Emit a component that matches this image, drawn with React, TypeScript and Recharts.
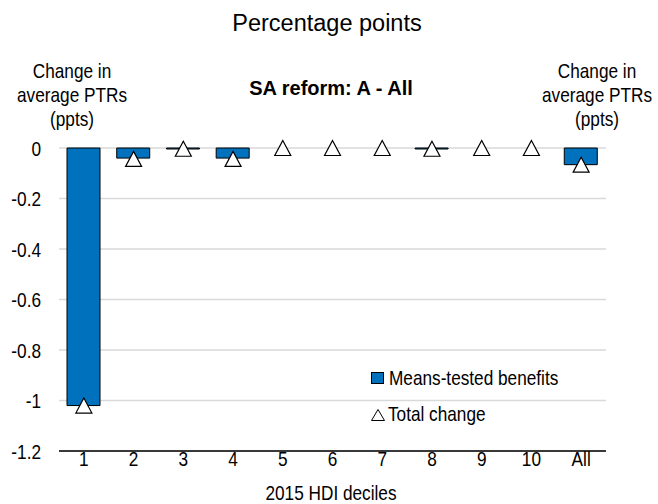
import React from "react"
import {
  ComposedChart,
  Bar,
  Line,
  XAxis,
  YAxis,
  CartesianGrid
} from "recharts"

const deciles = ["1", "2", "3", "4", "5", "6", "7", "8", "9", "10", "All"]
const meansTested = [-1.02, -0.04, -0.004, -0.04, 0, 0, 0, -0.004, 0, 0, -0.066]
const totalChange = [-1.02, -0.043, -0.003, -0.043, 0, 0, 0, -0.003, 0, 0, -0.066]
const yTicks = [0, -0.2, -0.4, -0.6, -0.8, -1, -1.2]

const data = deciles.map((cat, i) => ({
  cat,
  benefits: meansTested[i],
  total: totalChange[i]
}))

const barColor = "#0071bc"
const font = "'Liberation Sans', Arial, sans-serif"
const squeeze = 0.82 // no Arial Narrow installed, so squash Liberation Sans

// text squashed horizontally around its anchor point
const Narrow = ({ x, y, anchor = "start", size = 21, children }: any) => (
  <text
    transform={`translate(${x},${y}) scale(${squeeze},1)`}
    textAnchor={anchor}
    fontFamily={font}
    fontSize={size}
    fill="#000"
  >
    {children}
  </text>
)

const XTick = (props: any) => (
  <Narrow x={props.x} y={props.y + 15} anchor="middle">
    {props.payload.value}
  </Narrow>
)

const LeftTick = (props: any) => (
  <Narrow x={props.x} y={props.y + 7.5} anchor="end">
    {String(props.payload.value)}
  </Narrow>
)

const RightTick = (props: any) => (
  <Narrow x={props.x} y={props.y + 7.5} anchor="start">
    {String(props.payload.value)}
  </Narrow>
)

const triPath = (cx: number, cy: number, w = 16, h = 15) =>
  `M${cx},${cy - h / 2} L${cx + w / 2},${cy + h / 2} L${cx - w / 2},${cy + h / 2} Z`

const Triangle = (props: any) => {
  const { cx, cy, index } = props
  if (cx == null || cy == null) return <g key={`t-${index}`} />
  return (
    <path
      key={`t-${index}`}
      d={triPath(cx, cy)}
      fill="#ffffff"
      stroke="#000000"
      strokeWidth={1.2}
    />
  )
}

export default function App() {
  return (
    <div style={{ position: "absolute", left: 0, top: 0, width: 658, height: 504, background: "#fff" }}>
      <ComposedChart
        width={658}
        height={504}
        data={data}
        margin={{ top: 148, right: 0, left: 0, bottom: 0 }}
      >
        <CartesianGrid vertical={false} stroke="#d9d9d9" strokeWidth={1.5} yAxisId="left" />
        <XAxis
          dataKey="cat"
          height={53}
          interval={0}
          tickSize={0}
          tickMargin={0}
          tickLine={false}
          axisLine={{ stroke: "#000", strokeWidth: 1.5 }}
          tick={<XTick />}
        />
        <YAxis
          yAxisId="left"
          orientation="left"
          width={59}
          domain={[-1.2, 0]}
          ticks={yTicks}
          tickSize={0}
          tickMargin={18}
          tickLine={false}
          axisLine={false}
          tick={<LeftTick />}
        />
        <YAxis
          yAxisId="right"
          orientation="right"
          width={52}
          domain={[-1.2, 0]}
          ticks={yTicks}
          tickSize={0}
          tickMargin={16}
          tickLine={false}
          axisLine={false}
          tick={<RightTick />}
        />
        <Bar
          yAxisId="left"
          dataKey="benefits"
          barSize={33}
          fill={barColor}
          stroke="#000"
          strokeWidth={1}
          isAnimationActive={false}
        />
        <Line
          yAxisId="left"
          dataKey="total"
          stroke="none"
          dot={Triangle}
          activeDot={false}
          isAnimationActive={false}
        />
      </ComposedChart>

      {/* titles, side labels and legend */}
      <svg
        width={658}
        height={504}
        style={{ position: "absolute", left: 0, top: 0, pointerEvents: "none" }}
      >
        <text x={327} y={31} textAnchor="middle" fontFamily={font} fontSize={23.5} fill="#000">
          Percentage points
        </text>
        <text x={331} y={95} textAnchor="middle" fontFamily={font} fontWeight="bold" fontSize={20} fill="#000">
          SA reform: A - All
        </text>
        <Narrow x={72} y={78} anchor="middle">Change in</Narrow>
        <Narrow x={72} y={102} anchor="middle">average PTRs</Narrow>
        <Narrow x={72} y={126} anchor="middle">(ppts)</Narrow>
        <Narrow x={597} y={78} anchor="middle">Change in</Narrow>
        <Narrow x={597} y={102} anchor="middle">average PTRs</Narrow>
        <Narrow x={597} y={126} anchor="middle">(ppts)</Narrow>
        <Narrow x={331} y={500} anchor="middle">2015 HDI deciles</Narrow>

        <rect x={371.5} y={372.5} width={12} height={11} fill={barColor} stroke="#000" strokeWidth={1} />
        <Narrow x={389} y={385}>Means-tested benefits</Narrow>
        <path d={triPath(378, 415, 13, 11)} fill="#fff" stroke="#000" strokeWidth={1} />
        <Narrow x={388} y={421}>Total change</Narrow>
      </svg>
    </div>
  )
}
